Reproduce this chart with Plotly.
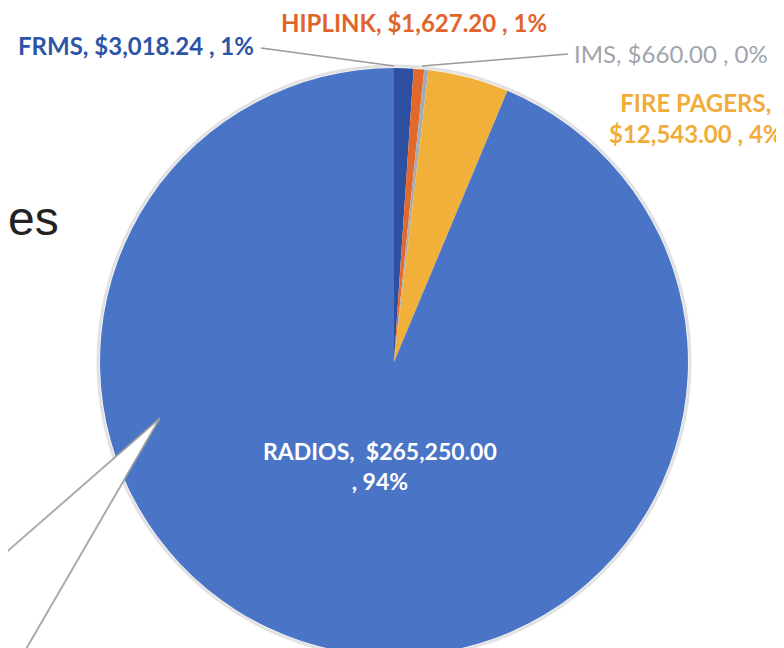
import plotly.graph_objects as go

categories = ["FRMS", "HIPLINK", "IMS", "FIRE PAGERS", "RADIOS"]
values = [3018.24, 1627.20, 660.00, 12543.00, 265250.00]
slice_colors = ["#2d50a0", "#e2692a", "#a3abb8", "#f0b03a", "#4a75c6"]
label_colors = ["#2c55a6", "#e0652a", "#a0a4ac", "#f0ad3a", "#ffffff"]

W, H = 784, 648
total = sum(values)
pcts = [round(v / total * 100) for v in values]
texts = [f"{c}, ${v:,.2f} , {p}%" for c, v, p in zip(categories, values, pcts)]

def px(x, y):
    return x / W, 1 - y / H

cx, cy, r = 386, 354, 294
fig = go.Figure(go.Pie(
    labels=categories, values=values, sort=False, direction="clockwise",
    rotation=0, marker=dict(colors=slice_colors, line=dict(width=0)),
    textinfo="none", hoverinfo="label+value+percent", showlegend=False,
    domain=dict(x=[(cx - r) / W, (cx + r) / W], y=[max(0, 1 - (cy + r) / H), 1 - (cy - r) / H]),
))

font = "Lato, 'Open Sans', sans-serif"
ann = []
places = {
    "FRMS": (248, 37, "right", [texts[0]], 24, "bold"),
    "HIPLINK": (406, 15, "center", [texts[1]], 24, "bold"),
    "IMS": (564, 46, "left", [texts[2]], 24, "normal"),
    "FIRE PAGERS": (688, 110, "center", [f"{categories[3]},", f"${values[3]:,.2f} , {pcts[3]}%"], 24, "bold"),
    "RADIOS": (372, 458, "center", [f"{categories[4]},  ${values[4]:,.2f}", f", {pcts[4]}%"], 23, "bold"),
}
for i, c in enumerate(categories):
    x, y, anchor, lines, size, weight = places[c]
    X, Y = px(x, y)
    ann.append(dict(x=X, y=Y, xref="paper", yref="paper", text="<br>".join(lines),
                    showarrow=False, xanchor=anchor, yanchor="middle", align="center",
                    font=dict(family=font, size=size, color=label_colors[i], weight=weight)))
X, Y = px(-2, 210)
ann.append(dict(x=X, y=Y, xref="paper", yref="paper", text="es", showarrow=False,
                xanchor="left", yanchor="middle",
                font=dict(family="Liberation Sans, Arial", size=48, color="#222222")))

shapes = [
    dict(type="circle", xref="paper", yref="paper", layer="below",
         x0=(cx - r - 2) / W, x1=(cx + r + 2) / W, y0=1 - (cy + r + 2) / H, y1=1 - (cy - r - 2) / H,
         line=dict(color="rgba(160,160,160,0.3)", width=3)),
    dict(type="line", xref="x", yref="y", x0=253, y0=40, x1=386, y1=58,
         line=dict(color="#9a9a9a", width=1.5)),
    dict(type="line", xref="x", yref="y", x0=560, y0=46, x1=414, y1=58,
         line=dict(color="#9a9a9a", width=1.5)),
    dict(type="path", xref="x", yref="y", path="M -6 548 L 152 410 L 14 648 L -6 652 Z",
         fillcolor="white", line=dict(color="rgba(150,150,150,0.8)", width=2)),
]

fig.update_layout(
    width=W, height=H, margin=dict(l=0, r=0, t=0, b=0),
    paper_bgcolor="white", plot_bgcolor="rgba(0,0,0,0)",
    xaxis=dict(range=[0, W], visible=False, fixedrange=True),
    yaxis=dict(range=[H, 0], visible=False, fixedrange=True),
    annotations=ann, shapes=shapes,
)
fig.write_html("out.html")
